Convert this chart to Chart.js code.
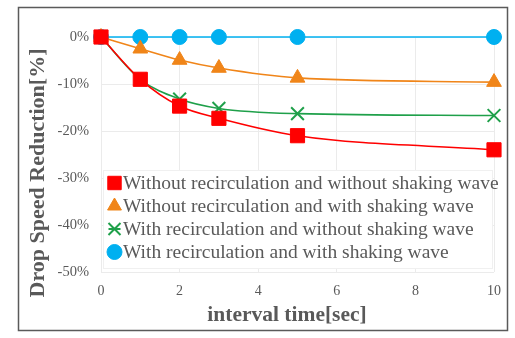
<!DOCTYPE html>
<html>
<head>
<meta charset="utf-8">
<script src="https://cdn.jsdelivr.net/npm/chart.js@4.4.1/dist/chart.umd.min.js"></script>
<style>
  html, body { margin: 0; padding: 0; background: #fff; }
</style>
</head>
<body>
<canvas id="chart" width="515" height="338"></canvas>
<script>
    // interval time [sec] and drop speed reduction [%] per condition
    const intervalSec = [0, 1, 2, 3, 5, 10];
    const noRecircNoShake = [0, -9.0, -14.7, -17.3, -21.0, -24.0];
    const noRecircShake = [0, -2.5, -4.9, -6.6, -8.7, -9.6];
    const recircNoShake = [0, -9.0, -13.2, -15.2, -16.3, -16.7];
    const recircShake = [0, 0, 0, 0, 0, 0];

    const seriesLabels = [
        'Without recirculation and without shaking wave',
        'Without recirculation and with shaking wave',
        'With recirculation and without shaking wave',
        'With recirculation and with shaking wave'
    ];
    const yTicks = [0, -10, -20, -30, -40, -50];
    const xTicks = [0, 2, 4, 6, 8, 10];
    const xTitle = 'interval time[sec]';
    const yTitle = 'Drop Speed Reduction[%]';

    const serif = "'Liberation Serif', 'DejaVu Serif', serif";
    const textGray = '#595959';

    function toPoints(values) {
        return intervalSec.map((x, i) => ({ x: x, y: values[i] }));
    }

    function makeSet(label, values, color, style, radius) {
        return {
            label: label,
            data: toPoints(values),
            borderColor: color,
            backgroundColor: color,
            borderWidth: 1.6,
            pointStyle: style,
            pointRadius: radius,
            pointBorderWidth: style === 'crossRot' ? 2 : 1,
            cubicInterpolationMode: 'monotone',
            clip: false
        };
    }

    // outer frame and the two axis titles
    const framePlugin = {
        id: 'frame',
        beforeDraw(chart) {
            const ctx = chart.ctx;
            ctx.save();
            ctx.fillStyle = '#fff';
            ctx.fillRect(0, 0, chart.width, chart.height);
            ctx.strokeStyle = '#5a5a5a';
            ctx.lineWidth = 1.5;
            ctx.strokeRect(18.5, 7.5, 489, 323);

            ctx.fillStyle = textGray;
            ctx.font = 'bold 21.5px ' + serif;
            ctx.textAlign = 'center';
            ctx.textBaseline = 'middle';
            ctx.fillText(xTitle, 287, 315);
            ctx.translate(38, 173);
            ctx.rotate(-Math.PI / 2);
            ctx.font = 'bold 22px ' + serif;
            ctx.fillText(yTitle, 0, 0);
            ctx.restore();
        }
    };

    // legend boxed inside the plot area, lower left
    const insideLegend = {
        id: 'insideLegend',
        afterDatasetsDraw(chart) {
            const ctx = chart.ctx;
            const area = chart.chartArea;
            const top = 170, rowH = 23;
            ctx.save();
            ctx.fillStyle = '#fff';
            ctx.fillRect(area.left + 2, top, area.right - area.left - 3, 98);
            ctx.strokeStyle = '#f0f0f0';
            ctx.lineWidth = 1;
            ctx.strokeRect(area.left + 2.5, top + 0.5, area.right - area.left - 4, 98);
            ctx.font = '19.5px ' + serif;
            ctx.textBaseline = 'middle';
            chart.data.datasets.forEach((ds, i) => {
                const cy = top + 13 + i * rowH;
                const cx = 114.5;
                ctx.fillStyle = ds.backgroundColor;
                ctx.strokeStyle = ds.borderColor;
                ctx.lineWidth = ds.pointBorderWidth;
                Chart.helpers.drawPoint(ctx, {
                    pointStyle: ds.pointStyle,
                    radius: ds.pointStyle === 'circle' ? 7.5 : ds.pointRadius - 0.5,
                    borderWidth: ds.pointBorderWidth,
                    rotation: 0
                }, cx, cy);
                if (ds.pointStyle === 'crossRot') {
                    ctx.beginPath();
                    ctx.moveTo(cx - 6, cy);
                    ctx.lineTo(cx + 6, cy);
                    ctx.stroke();
                }
                ctx.fillStyle = textGray;
                ctx.fillText(ds.label, 123, cy + 1);
            });
            ctx.restore();
        }
    };

    new Chart(document.getElementById('chart'), {
        type: 'line',
        data: {
            datasets: [
                makeSet(seriesLabels[0], noRecircNoShake, '#ff0000', 'rect', 10),
                makeSet(seriesLabels[1], noRecircShake, '#f08519', 'triangle', 8.5),
                makeSet(seriesLabels[2], recircNoShake, '#1fa04a', 'crossRot', 9),
                makeSet(seriesLabels[3], recircShake, '#00b0f0', 'circle', 7.5)
            ]
        },
        options: {
            responsive: false,
            animation: false,
            layout: { padding: { left: 18, right: 21, top: 37, bottom: 8 } },
            plugins: {
                legend: { display: false },
                tooltip: { enabled: false }
            },
            scales: {
                x: {
                    type: 'linear',
                    min: 0,
                    max: 10,
                    afterBuildTicks: axis => { axis.ticks = xTicks.map(v => ({ value: v })); },
                    grid: { color: '#ebebeb', drawTicks: false },
                    border: { display: false },
                    ticks: { color: textGray, font: { family: serif, size: 14 }, padding: 11 },
                    afterFit: axis => { axis.height = 58; }
                },
                y: {
                    min: -50,
                    max: 0,
                    afterBuildTicks: axis => { axis.ticks = yTicks.map(v => ({ value: v })); },
                    grid: { color: '#ebebeb', drawTicks: false },
                    border: { display: false },
                    ticks: {
                        color: textGray,
                        font: { family: serif, size: 14.5 },
                        padding: 12,
                        callback: v => v + '%'
                    },
                    afterFit: axis => { axis.width = 83; }
                }
            }
        },
        plugins: [framePlugin, insideLegend]
    });
</script>
</body>
</html>
